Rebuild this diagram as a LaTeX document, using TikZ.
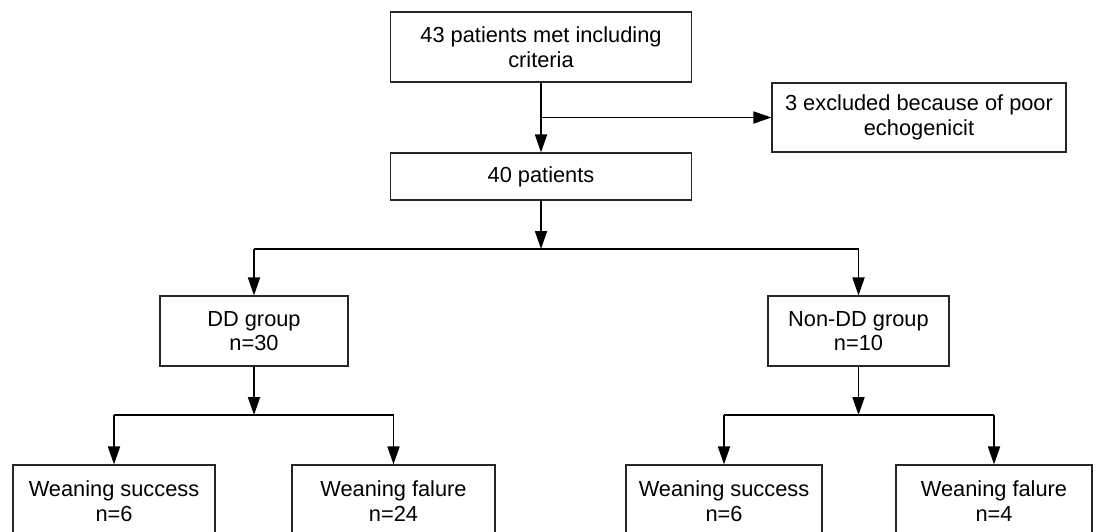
\documentclass[tikz,border=0pt]{standalone}
\usepackage{fontspec}
\setmainfont{Liberation Sans}
\usepackage{tikz}
\usetikzlibrary{arrows.meta,calc}

\tikzset{
  box/.style={draw=black!85, line width=0.55pt, align=center, inner sep=0pt,
    font=\fontsize{10.9}{12.4}\selectfont},
  flow/.style={line width=0.9pt, -{Triangle[length=9pt,width=6pt]}},
  branchline/.style={line width=0.9pt}
}

\begin{document}
\begin{tikzpicture}[x=0.5pt,y=-0.5pt]
                \useasboundingbox (0,0) rectangle (1102,531);
                \node[box, minimum width=150.5pt, minimum height=35pt] (total) at (541,47) {43 patients met including\\criteria};
                \node[box, minimum width=147pt, minimum height=34.5pt] (excl) at (919,117.5) {3 excluded because of poor\\echogenicit};
                \node[box, minimum width=150.5pt, minimum height=23.5pt] (kept) at (541,176.5) {40 patients};
                \node[box, minimum width=94pt, minimum height=35pt] (dd) at (254,331) {DD group\\n=30};
                \node[box, minimum width=90.5pt, minimum height=35pt] (ndd) at (858.5,331) {Non-DD group\\n=10};
                \node[box, minimum width=101pt, minimum height=36pt] (ddok) at (114,501) {Weaning success\\n=6};
                \node[box, minimum width=101.5pt, minimum height=36pt] (ddfail) at (393.5,501) {Weaning falure\\n=24};
                \node[box, minimum width=98pt, minimum height=36pt] (nddok) at (724,501) {Weaning success\\n=6};
                \node[box, minimum width=98pt, minimum height=36pt] (nddfail) at (994,501) {Weaning falure\\n=4};
                % junction points
                \coordinate (split) at ($(total.south)!0.5!(kept.north)$);
                \coordinate (fork) at (541,249);
                \coordinate (ddfork) at (254,415);
                \coordinate (nddfork) at (858.5,415);
                % connectors
                \draw[flow] (total.south) -- (kept.north);
                \draw[flow] (split) -- (excl.west |- split);
                \draw[flow] (kept.south) -- (fork);
                \draw[branchline] (dd.north |- fork) -- (ndd.north |- fork);
                \draw[flow] (dd.north |- fork) -- (dd.north);
                \draw[flow] (ndd.north |- fork) -- (ndd.north);
                \draw[flow] (dd.south) -- (ddfork);
                \draw[branchline] (ddok.north |- ddfork) -- (ddfail.north |- ddfork);
                \draw[flow] (ddok.north |- ddfork) -- (ddok.north);
                \draw[flow] (ddfail.north |- ddfork) -- (ddfail.north);
                \draw[flow] (ndd.south) -- (nddfork);
                \draw[branchline] (nddok.north |- nddfork) -- (nddfail.north |- nddfork);
                \draw[flow] (nddok.north |- nddfork) -- (nddok.north);
                \draw[flow] (nddfail.north |- nddfork) -- (nddfail.north);
            \end{tikzpicture}
\end{document}
